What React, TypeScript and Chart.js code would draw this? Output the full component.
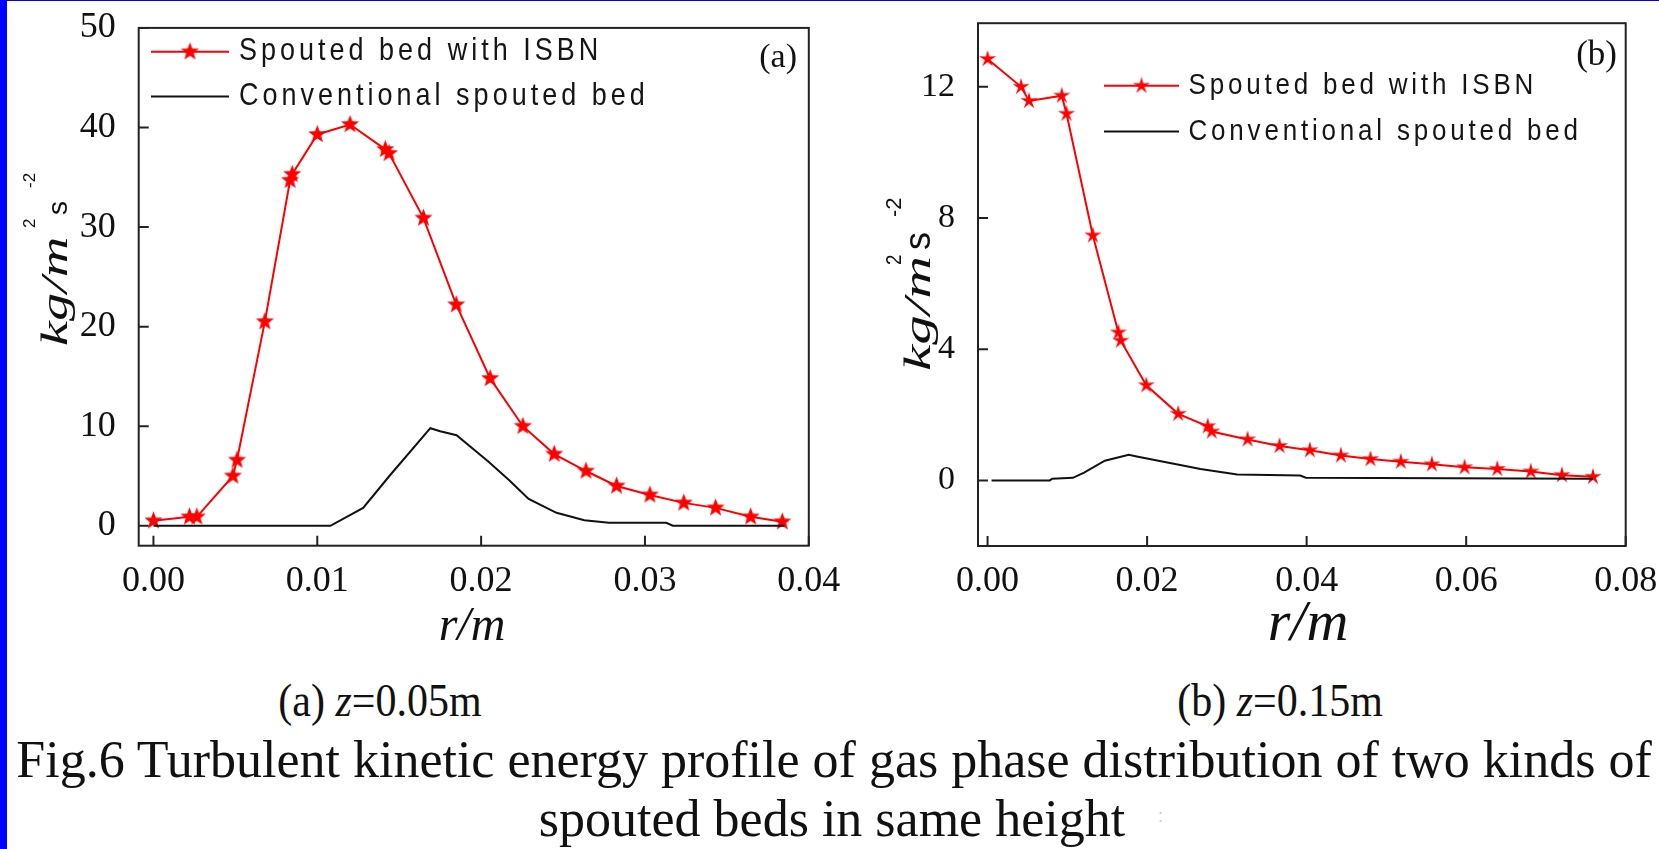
import React, { useEffect, useRef } from 'react';
import { Chart, registerables } from 'chart.js';

Chart.register(...registerables);

// ---------- Data: panel (a) z = 0.05 m ----------
const rIsbnA = [0, 0.0022, 0.00265, 0.00485, 0.0051, 0.0068, 0.00834, 0.00847, 0.01, 0.012, 0.01415, 0.01438, 0.01648, 0.01848, 0.02055, 0.02255, 0.02446, 0.0264, 0.02827, 0.0303, 0.03237, 0.03431, 0.03645, 0.03838];
const kIsbnA = [0.5, 0.9, 0.9, 5.0, 6.6, 20.5, 34.7, 35.3, 39.3, 40.3, 37.8, 37.4, 30.9, 22.2, 14.8, 10.0, 7.2, 5.5, 4.0, 3.1, 2.3, 1.8, 0.9, 0.4];
const rConvA = [0, 0.0108, 0.0128, 0.0144, 0.0169, 0.0175, 0.0185, 0.0204, 0.0217, 0.0229, 0.0246, 0.0263, 0.0278, 0.0313, 0.0317, 0.0385];
const kConvA = [0, 0, 1.8, 5.0, 9.8, 9.5, 9.1, 6.5, 4.6, 2.7, 1.3, 0.55, 0.3, 0.3, 0, 0];
const xTicksA = [0, 0.01, 0.02, 0.03, 0.04];
const yTicksA = [0, 10, 20, 30, 40, 50];

// ---------- Data: panel (b) z = 0.15 m ----------
const rIsbnB = [0, 0.0042, 0.0052, 0.0093, 0.0099, 0.0132, 0.0164, 0.0167, 0.0199, 0.0239, 0.0276, 0.0281, 0.0326, 0.0366, 0.0404, 0.0443, 0.048, 0.0518, 0.0557, 0.0598, 0.0639, 0.0681, 0.072, 0.0759];
const kIsbnB = [12.85, 12.0, 11.57, 11.73, 11.18, 7.47, 4.51, 4.26, 2.9, 2.03, 1.65, 1.49, 1.25, 1.05, 0.92, 0.76, 0.65, 0.57, 0.49, 0.40, 0.35, 0.27, 0.16, 0.11];
const rConvB = [0.0005, 0.0078, 0.0081, 0.0107, 0.0121, 0.0147, 0.0177, 0.0187, 0.0227, 0.0267, 0.0313, 0.0392, 0.0399, 0.0759];
const kConvB = [0, 0, 0.05, 0.08, 0.24, 0.6, 0.78, 0.73, 0.54, 0.35, 0.18, 0.15, 0.08, 0.05];
const xTicksB = [0, 0.02, 0.04, 0.06, 0.08];
const yTicksB = [0, 4, 8, 12];

// ---------- Text ----------
const seriesLabels = ['Spouted bed with ISBN', 'Conventional spouted bed'];
const panelTags = ['(a)', '(b)'];
const xTitleText = 'r/m';
const captionLine1 = 'Fig.6 Turbulent kinetic energy profile of gas phase distribution of two kinds of';
const captionLine2 = 'spouted beds in same height';

const SERIF = '"Liberation Serif", "Times New Roman", serif';
const SANS = '"Liberation Sans", Arial, sans-serif';

function makeStar(outer: number, inner: number, color: string) {
  const size = Math.ceil(outer * 2 + 2);
  const c = document.createElement('canvas');
  c.width = size;
  c.height = size;
  const g = c.getContext('2d')!;
  g.translate(size / 2, size / 2);
  g.beginPath();
  for (let i = 0; i < 10; i++) {
    const r = i % 2 === 0 ? outer : inner;
    const a = -Math.PI / 2 + (i * Math.PI) / 5;
    g.lineTo(r * Math.cos(a), r * Math.sin(a));
  }
  g.closePath();
  g.fillStyle = color;
  g.fill();
  return c;
}

type Piece = { text: string; font: string; along: number; rise: number; stretch: number };

type PanelCfg = {
  canvasW: number;
  canvasH: number;
  padTop: number;
  padRight: number;
  yAxisW: number;
  xAxisH: number;
  xMin: number;
  xMax: number;
  yMin: number;
  yMax: number;
  xTicks: number[];
  yTicks: number[];
  yTickFont: number;
  red: { x: number[]; y: number[] };
  black: { x: number[]; y: number[] };
  star: [number, number];
  legendLine: [number, number];
  legendY: [number, number];
  legendTextX: number;
  legendFont: number;
  legendSpacing: number;
  tag: string;
  tagRight: number;
  tagBaseline: number;
  tagFont: number;
  yTitleBaseX: number;
  yTitleBottom: number;
  yPieces: Piece[];
  xTitleCx: number;
  xTitleBaseline: number;
  xTitleFont: number;
};

const panelA: PanelCfg = {
  canvasW: 870, canvasH: 660, padTop: 27.9, padRight: 61.2, yAxisW: 138.7, xAxisH: 114.3,
  xMin: -0.0009, xMax: 0.04, yMin: -2, yMax: 50,
  xTicks: xTicksA, yTicks: yTicksA, yTickFont: 36,
  red: { x: rIsbnA, y: kIsbnA }, black: { x: rConvA, y: kConvA },
  star: [9.5, 4],
  legendLine: [151, 229], legendY: [51.8, 96.4], legendTextX: 239, legendFont: 27, legendSpacing: 4,
  tag: panelTags[0], tagRight: 797, tagBaseline: 67, tagFont: 34,
  yTitleBaseX: 67, yTitleBottom: 346,
  yPieces: [
    { text: 'kg/m', font: `italic 37px ${SERIF}`, along: 0, rise: 0, stretch: 1.52 },
    { text: '2', font: `17px ${SANS}`, along: 118, rise: 32, stretch: 1 },
    { text: 's', font: `28px ${SANS}`, along: 131, rise: 0, stretch: 1 },
    { text: '-2', font: `17px ${SANS}`, along: 158, rise: 32, stretch: 1 },
  ],
  xTitleCx: 472, xTitleBaseline: 640, xTitleFont: 48,
};

const panelB: PanelCfg = {
  canvasW: 829, canvasH: 660, padTop: 23.2, padRight: 33.3, yAxisW: 148, xAxisH: 114,
  xMin: -0.0012, xMax: 0.08, yMin: -2, yMax: 13.94,
  xTicks: xTicksB, yTicks: yTicksB, yTickFont: 34,
  red: { x: rIsbnB, y: kIsbnB }, black: { x: rConvB, y: kConvB },
  star: [9, 3],
  legendLine: [274, 349], legendY: [85.7, 131.4], legendTextX: 358.5, legendFont: 26, legendSpacing: 3.8,
  tag: panelTags[1], tagRight: 787, tagBaseline: 65, tagFont: 35,
  yTitleBaseX: 100, yTitleBottom: 371,
  yPieces: [
    { text: 'kg/m', font: `italic 37px ${SERIF}`, along: 0, rise: 0, stretch: 1.6 },
    { text: '2', font: `22px ${SANS}`, along: 106, rise: 29, stretch: 0.85 },
    { text: 's', font: `36px ${SANS}`, along: 121, rise: 0, stretch: 1 },
    { text: '-2', font: `22px ${SANS}`, along: 154, rise: 29, stretch: 1 },
  ],
  xTitleCx: 478, xTitleBaseline: 640, xTitleFont: 58,
};

function buildChart(canvas: HTMLCanvasElement, p: PanelCfg) {
  const star = makeStar(p.star[0], p.star[1], '#ff0000');
  const decor = {
    id: 'decor',
    afterDraw(chart: any) {
      const ctx: CanvasRenderingContext2D = chart.ctx;
      const a = chart.chartArea;
      const xs = chart.scales.x;
      const ys = chart.scales.y;
      ctx.save();
      // frame
      ctx.strokeStyle = '#222';
      ctx.lineWidth = 2;
      ctx.strokeRect(a.left, a.top, a.right - a.left, a.bottom - a.top);
      // inward ticks
      ctx.beginPath();
      xs.ticks.forEach((t: any) => {
        const px = xs.getPixelForValue(t.value);
        ctx.moveTo(px, a.bottom);
        ctx.lineTo(px, a.bottom - 10);
      });
      ys.ticks.forEach((t: any) => {
        const py = ys.getPixelForValue(t.value);
        ctx.moveTo(a.left, py);
        ctx.lineTo(a.left + 10, py);
      });
      ctx.stroke();

      // legend
      const colors = ['#ff0000', '#111111'];
      for (let i = 0; i < 2; i++) {
        const y = p.legendY[i];
        ctx.strokeStyle = colors[i];
        ctx.lineWidth = 2;
        ctx.beginPath();
        ctx.moveTo(p.legendLine[0], y);
        ctx.lineTo(p.legendLine[1], y);
        ctx.stroke();
        if (i === 0) {
          const cx = (p.legendLine[0] + p.legendLine[1]) / 2;
          ctx.drawImage(star, cx - star.width / 2, y - star.height / 2);
        }
        ctx.save();
        ctx.translate(p.legendTextX, y);
        ctx.scale(1, 1.15);
        ctx.font = `${p.legendFont}px ${SANS}`;
        (ctx as any).letterSpacing = `${p.legendSpacing}px`;
        ctx.fillStyle = '#151515';
        ctx.textAlign = 'left';
        ctx.textBaseline = 'middle';
        ctx.fillText(seriesLabels[i], 0, 0);
        ctx.restore();
      }

      // panel tag
      ctx.font = `${p.tagFont}px ${SERIF}`;
      ctx.fillStyle = '#111';
      ctx.textAlign = 'right';
      ctx.textBaseline = 'alphabetic';
      ctx.fillText(p.tag, p.tagRight, p.tagBaseline);

      // y title
      p.yPieces.forEach((pc) => {
        ctx.save();
        ctx.translate(p.yTitleBaseX - pc.rise, p.yTitleBottom - pc.along);
        ctx.rotate(-Math.PI / 2);
        ctx.scale(pc.stretch, 1);
        ctx.font = pc.font;
        ctx.fillStyle = '#111';
        ctx.textAlign = 'left';
        ctx.textBaseline = 'alphabetic';
        ctx.fillText(pc.text, 0, 0);
        ctx.restore();
      });

      // x title
      ctx.font = `italic ${p.xTitleFont}px ${SERIF}`;
      ctx.fillStyle = '#111';
      ctx.textAlign = 'center';
      ctx.textBaseline = 'alphabetic';
      ctx.fillText(xTitleText, p.xTitleCx, p.xTitleBaseline);
      ctx.restore();
    },
  };

  const toPts = (xs: number[], ys: number[]) => xs.map((x, i) => ({ x, y: ys[i] }));

  return new Chart(canvas, {
    type: 'line',
    data: {
      datasets: [
        {
          label: seriesLabels[1],
          data: toPts(p.black.x, p.black.y),
          borderColor: '#111111',
          borderWidth: 2,
          pointRadius: 0,
          tension: 0,
        },
        {
          label: seriesLabels[0],
          data: toPts(p.red.x, p.red.y),
          borderColor: '#ff0000',
          borderWidth: 2,
          pointStyle: star as any,
          pointRadius: 9,
          tension: 0,
        },
      ],
    },
    options: {
      animation: false,
      responsive: false,
      devicePixelRatio: 1,
      layout: { padding: { top: p.padTop, right: p.padRight, left: 0, bottom: 0 } },
      plugins: { legend: { display: false }, tooltip: { enabled: false } },
      scales: {
        x: {
          type: 'linear',
          min: p.xMin,
          max: p.xMax,
          grid: { display: false },
          border: { display: false },
          ticks: {
            font: { family: SERIF, size: 36 },
            color: '#111',
            padding: 6,
            autoSkip: false,
            maxRotation: 0,
            minRotation: 0,
            callback: (v: any) => Number(v).toFixed(2),
          },
          afterBuildTicks: (s: any) => {
            s.ticks = p.xTicks.map((v) => ({ value: v }));
          },
          afterFit: (s: any) => {
            s.height = p.xAxisH;
            s.paddingLeft = 0;
            s.paddingRight = 0;
          },
        },
        y: {
          type: 'linear',
          min: p.yMin,
          max: p.yMax,
          grid: { display: false },
          border: { display: false },
          ticks: {
            font: { family: SERIF, size: p.yTickFont },
            color: '#111',
            padding: 15,
            autoSkip: false,
            callback: (v: any) => String(v),
          },
          afterBuildTicks: (s: any) => {
            s.ticks = p.yTicks.map((v) => ({ value: v }));
          },
          afterFit: (s: any) => {
            s.width = p.yAxisW;
            s.paddingTop = 0;
            s.paddingBottom = 0;
          },
        },
      },
    } as any,
    plugins: [decor],
  });
}

function Panel({ cfg, left }: { cfg: PanelCfg; left: number }) {
  const ref = useRef<HTMLCanvasElement>(null);
  useEffect(() => {
    if (!ref.current) return;
    const chart = buildChart(ref.current, cfg);
    return () => chart.destroy();
  }, [cfg]);
  return (
    <canvas
      ref={ref}
      width={cfg.canvasW}
      height={cfg.canvasH}
      style={{ position: 'absolute', left, top: 0, width: cfg.canvasW, height: cfg.canvasH, display: 'block' }}
    />
  );
}

const textBase: React.CSSProperties = {
  position: 'absolute',
  fontFamily: SERIF,
  color: '#111',
  whiteSpace: 'nowrap',
  transform: 'translateX(-50%)',
};

export default function App() {
  return (
    <div
      style={{
        position: 'absolute',
        left: 0,
        top: 0,
        width: 1659,
        height: 849,
        background: '#ffffff',
        overflow: 'hidden',
      }}
    >
      <Panel cfg={panelA} left={0} />
      <Panel cfg={panelB} left={830} />
      <div style={{ ...textBase, left: 380, top: 679.8, fontSize: 42, lineHeight: '42px', transform: 'translateX(-50%) scaleY(1.1)' }}>
        (a) <i>z</i>=0.05m
      </div>
      <div style={{ ...textBase, left: 1280, top: 679.8, fontSize: 42, lineHeight: '42px', transform: 'translateX(-50%) scaleY(1.1)' }}>
        (b) <i>z</i>=0.15m
      </div>
      <div style={{ ...textBase, left: 834, top: 733.5, fontSize: 52, lineHeight: '52px' }}>{captionLine1}</div>
      <div style={{ ...textBase, left: 832, top: 792.5, fontSize: 52, lineHeight: '52px' }}>{captionLine2}</div>
      <div style={{ position: 'absolute', left: 1158, top: 806, fontSize: 18, color: '#cccccc', fontFamily: SANS }}>:</div>
      <div style={{ position: 'absolute', left: 0, top: 0, width: 7, height: 849, background: '#0000ff' }} />
      <div style={{ position: 'absolute', left: 0, top: 0, width: 1659, height: 1, background: '#0000ff' }} />
    </div>
  );
}
